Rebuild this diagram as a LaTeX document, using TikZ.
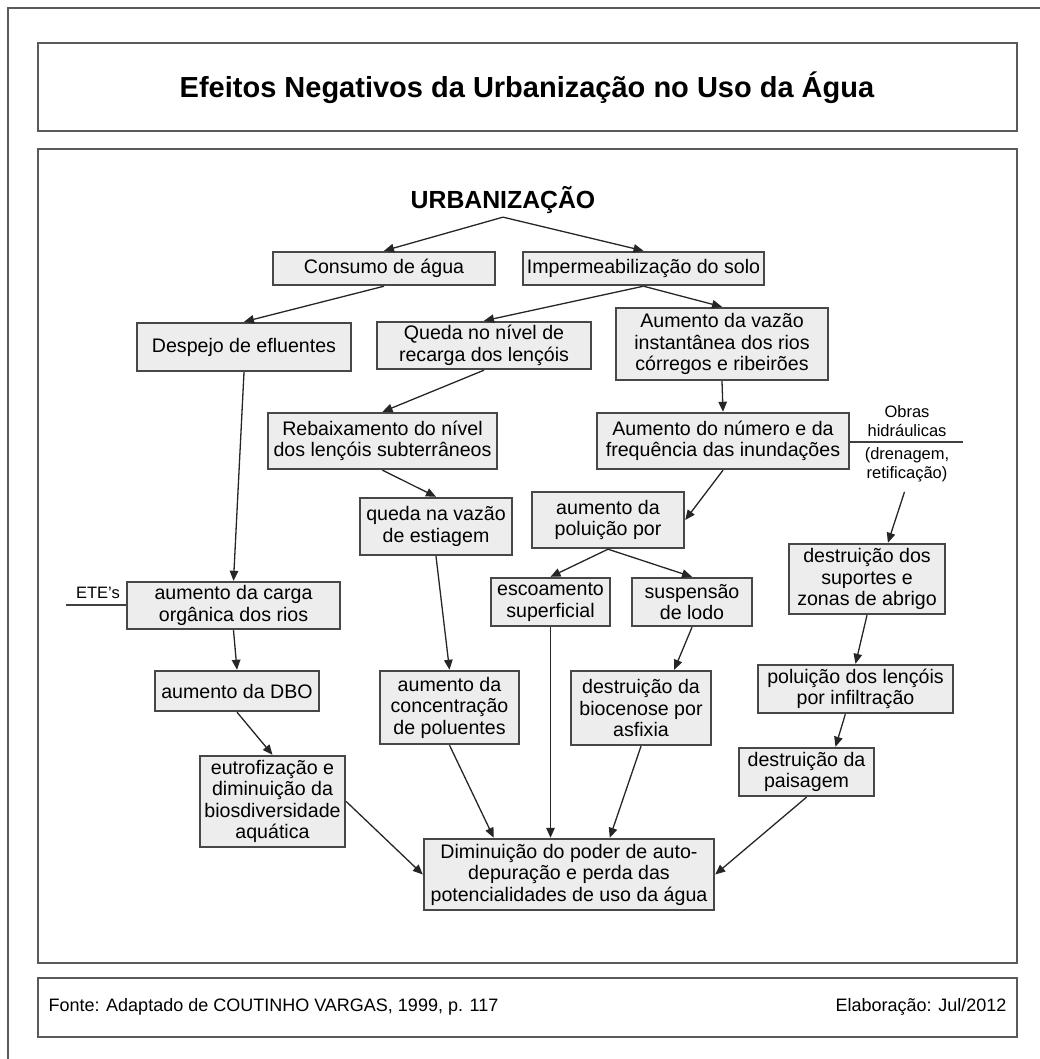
\documentclass[tikz,border=0pt]{standalone}
\usepackage{fontspec}
\setmainfont{Liberation Sans}
\usetikzlibrary{arrows.meta,calc}

\definecolor{boxfill}{HTML}{EDEDED}
\definecolor{boxline}{HTML}{474747}
\definecolor{frameline}{HTML}{5A5A5A}

\begin{document}
\begin{tikzpicture}[x=1pt,y=-1pt,>={Triangle[length=10pt,width=8.5pt]},
  box/.style={draw=boxline,line width=2.4pt,fill=boxfill,inner sep=0pt,align=center,
    font=\fontsize{19.6}{21.5}\selectfont},
  wh/.style 2 args={minimum width=#1pt,minimum height=#2pt},
  note/.style={inner sep=2pt,align=center,font=\fontsize{16.5}{18.5}\selectfont},
  link/.style={->,line width=1.3pt,draw=black!85},
  frame/.style={draw=frameline,line width=1.5pt}]
  \useasboundingbox (0,0) rectangle (1040,1059);

  % frames: page, title, diagram, source
  \draw[frame] (8,1059) -- (8,8) -- (1040,8);
  \draw[frame] (38,43) rectangle (1017,131);
  \draw[frame] (38,149) rectangle (1017,963);
  \draw[frame] (38,978) rectangle (1017,1037);

  \node[font=\bfseries\fontsize{29}{34}\selectfont] (title) at (527,88)
    {Efeitos Negativos da Urbanização no Uso da Água};
  \node[anchor=west,font=\fontsize{18}{21}\selectfont] (fonte) at (45,1007)
    {Fonte: Adaptado de COUTINHO VARGAS, 1999, p. 117};
  \node[anchor=east,font=\fontsize{18}{21}\selectfont] (elab) at (1010,1007)
    {Elaboração: Jul/2012};

  \node[font=\bfseries\fontsize{24.8}{28}\selectfont] (urb) at (503,200) {URBANIZAÇÃO};

  % first levels
  \node[box,wh={222}{33}] (consumo) at (384,268.5) {Consumo de água};
  \node[box,wh={241}{33}] (imperm) at (643.5,268.5) {Impermeabilização do solo};
  \node[box,wh={214}{48}] (despejo) at (244,347) {Despejo de efluentes};
  \node[box,wh={214}{47}] (queda) at (484,345.5) {Queda no nível de\\recarga dos lençóis};
  \node[box,wh={212}{72}] (vazao) at (722,344)
    {Aumento da vazão\\instantânea dos rios\\córregos e ribeirões};
  \node[box,wh={229}{56}] (rebaix) at (382.5,441)
    {Rebaixamento do nível\\dos lençóis subterrâneos};
  \node[box,wh={252}{56}] (inund) at (723,441)
    {Aumento do número e da\\frequência das inundações};
  \node[box,wh={152}{57}] (estiagem) at (436,526.5) {queda na vazão\\de estiagem};
  \node[box,wh={152}{56}] (polui) at (608,520) {aumento da\\poluição por};
  \node[box,wh={156}{70}] (suportes) at (867,579)
    {destruição dos\\suportes e\\zonas de abrigo};

  % middle levels
  \node[box,wh={213}{47}] (carga) at (233.5,605.5) {aumento da carga\\orgânica dos rios};
  \node[box,wh={119}{48}] (escoam) at (550.5,602) {escoamento\\superficial};
  \node[box,wh={120}{48}] (suspensao) at (692,602) {suspensão\\de lodo};
  \node[box,wh={164}{40}] (dbo) at (237,691) {aumento da DBO};
  \node[box,wh={139}{73}] (concentr) at (449.5,707.5)
    {aumento da\\concentração\\de poluentes};
  \node[box,wh={140}{74}] (biocen) at (641,708)
    {destruição da\\biocenose por\\asfixia};
  \node[box,wh={195}{48}] (lencois) at (855.5,689)
    {poluição dos lençóis\\por infiltração};
  \node[box,wh={145}{91}] (eutrof) at (272.5,801.5)
    {eutrofização e\\diminuição da\\biosdiversidade\\aquática};
  \node[box,wh={135}{48}] (paisagem) at (806.5,772) {destruição da\\paisagem};
  \node[box,wh={290}{71}] (dimin) at (569,874.5)
    {Diminuição do poder de auto-\\depuração e perda das\\potencialidades de uso da água};

  % side notes
  \node[note] (obras) at (907,421) {Obras\\hidráulicas};
  \node[note] (dren) at (907,465) {(drenagem,\\retificação)};
  \coordinate (obrasend) at (963,442);
  \node[note] (ete) at (98,593) {ETE's};
  \coordinate (eteend) at (66,605);
  \draw[line width=1.2pt,draw=black!75] (inund.east |- obrasend) -- (obrasend);
  \draw[line width=1.2pt,draw=black!75] (eteend) -- (eteend -| carga.west);

  % arrows
  \draw[link] (urb.south) -- (consumo.north);
  \draw[link] (urb.south) -- (imperm.north);
  \draw[link] (consumo.south) -- (despejo.north);
  \draw[link] (imperm.south) -- (queda.north);
  \draw[link] (imperm.south) -- (vazao.north);
  \draw[link] (queda.south) -- (rebaix.north);
  \draw[link] (vazao.south) -- (inund.north);
  \draw[link] (rebaix.south) -- (estiagem.north);
  \draw[link] (inund.south) -- (polui.east);
  \draw[link] (polui.south) -- (escoam.north);
  \draw[link] (polui.south) -- (suspensao.north);
  \draw[link,shorten <=8pt] (dren.south) -- (suportes.60);
  \draw[link] (despejo.south) -- (carga.north);
  \draw[link] (estiagem.south) -- (concentr.north);
  \draw[link] (carga.south) -- (dbo.north);
  \draw[link] (dbo.south) -- (eutrof.north);
  \draw[link] (suspensao.south) -- (biocen.49);
  \draw[link] (suportes.south) -- (lencois.north);
  \draw[link] (lencois.-112) -- (paisagem.41);
  \draw[link] (eutrof.east) -- (dimin.west);
  \draw[link] (concentr.south) -- (dimin.154);
  \draw[link] (escoam.south) -- (escoam.south |- dimin.north);
  \draw[link] (biocen.south) -- (dimin.42);
  \draw[link] (paisagem.south) -- (dimin.east);
\end{tikzpicture}
\end{document}
